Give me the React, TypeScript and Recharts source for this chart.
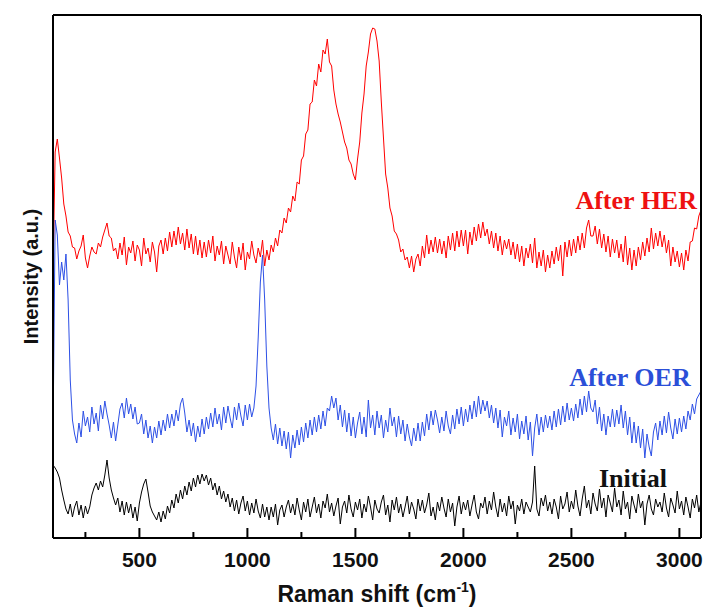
import React from 'react';
import { LineChart, Line, XAxis, YAxis, ReferenceDot, ReferenceLine, Label } from 'recharts';

// Raman shift grid (cm^-1), 100 ... 3100 in steps of 10
const ramanShift: number[] = Array.from({ length: 301 }, (_, i) => 100 + i * 10);

const afterHER: number[] = [
  263, 386, 399, 380, 360, 334, 322, 306, 302, 291,
  290, 279, 287, 292, 303, 280, 270, 282, 291, 286,
  284, 295, 291, 301, 308, 315, 302, 300, 287, 290,
  279, 295, 283, 301, 273, 291, 285, 297, 277, 293,
  288, 272, 300, 284, 290, 276, 296, 286, 266, 292,
  298, 284, 300, 287, 306, 291, 307, 293, 311, 294,
  305, 288, 309, 290, 304, 284, 302, 283, 298, 280,
  296, 281, 298, 285, 302, 277, 292, 283, 297, 274,
  292, 283, 274, 296, 281, 270, 291, 278, 295, 268,
  286, 279, 297, 283, 275, 290, 281, 298, 272, 288,
  278, 293, 286, 300, 292, 308, 305, 320, 315, 330,
  326, 342, 337, 356, 354, 378, 382, 404, 408, 434,
  436, 458, 452, 474, 466, 488, 484, 499, 476, 472,
  448, 434, 424, 416, 406, 396, 390, 378, 374, 364,
  358, 379, 396, 425, 444, 472, 486, 504, 510, 509,
  497, 477, 436, 400, 364, 350, 330, 322, 307, 304,
  298, 286, 289, 278, 281, 270, 282, 266, 279, 284,
  272, 292, 280, 303, 284, 298, 286, 301, 285, 299,
  284, 297, 280, 302, 288, 305, 287, 307, 291, 308,
  292, 308, 284, 306, 293, 311, 297, 314, 300, 316,
  302, 309, 294, 307, 290, 305, 287, 302, 283, 298,
  289, 299, 283, 296, 279, 294, 276, 292, 272, 290,
  280, 294, 275, 300, 270, 286, 272, 288, 266, 283,
  270, 287, 274, 291, 277, 293, 262, 296, 281, 298,
  282, 299, 285, 302, 288, 305, 290, 310, 318, 302,
  302, 312, 294, 309, 290, 304, 286, 302, 281, 299,
  285, 298, 280, 294, 276, 302, 273, 290, 268, 288,
  272, 291, 278, 296, 282, 300, 286, 310, 289, 305,
  292, 307, 291, 303, 285, 298, 272, 291, 276, 287,
  271, 285, 268, 288, 277, 296, 297, 310, 309, 322,
  328,
];

const afterOER: number[] = [
  101, 318, 303, 253, 276, 258, 284, 238, 158, 118,
  104, 95, 115, 101, 127, 112, 121, 106, 131, 114,
  125, 107, 133, 119, 137, 124, 113, 100, 116, 97,
  113, 129, 135, 120, 140, 124, 134, 119, 131, 114,
  115, 124, 104, 118, 100, 112, 95, 111, 100, 117,
  103, 118, 107, 124, 110, 124, 112, 128, 117, 134,
  140, 125, 106, 118, 102, 115, 96, 112, 101, 119,
  104, 121, 109, 125, 111, 130, 114, 124, 108, 131,
  115, 132, 120, 110, 131, 118, 135, 122, 112, 133,
  118, 134, 121, 130, 152, 200, 256, 283, 238, 172,
  130, 110, 98, 114, 94, 110, 92, 107, 89, 106,
  80, 103, 90, 108, 93, 111, 96, 115, 100, 118,
  103, 121, 106, 123, 109, 127, 112, 130, 127, 142,
  130, 140, 118, 133, 111, 128, 106, 125, 102, 121,
  100, 115, 126, 104, 121, 101, 138, 110, 123, 103,
  127, 110, 123, 100, 118, 106, 130, 112, 121, 101,
  122, 104, 118, 97, 114, 101, 92, 110, 97, 115,
  97, 116, 102, 124, 108, 127, 113, 128, 118, 105,
  121, 107, 127, 112, 104, 123, 109, 129, 114, 131,
  112, 129, 116, 133, 119, 137, 121, 142, 124, 138,
  127, 137, 120, 133, 115, 130, 110, 128, 101, 121,
  112, 127, 103, 120, 106, 124, 99, 117, 104, 122,
  98, 116, 82, 110, 124, 103, 121, 106, 123, 110,
  122, 108, 127, 111, 129, 113, 132, 116, 135, 118,
  130, 117, 134, 120, 139, 123, 142, 126, 147, 130,
  126, 138, 114, 131, 107, 124, 103, 122, 111, 129,
  111, 128, 114, 133, 110, 127, 103, 121, 95, 116,
  95, 112, 90, 109, 80, 104, 91, 82, 106, 115,
  98, 117, 103, 122, 105, 126, 110, 99, 119, 104,
  120, 106, 122, 109, 127, 118, 134, 124, 139, 143,
  147,
];

const initialSpec: number[] = [
  73, 70, 66, 60, 48, 38, 29, 24, 34, 21,
  31, 37, 23, 33, 20, 32, 24, 31, 43, 50,
  55, 48, 57, 51, 63, 78, 60, 48, 40, 33,
  40, 26, 37, 23, 36, 25, 34, 20, 31, 17,
  35, 46, 54, 59, 46, 32, 26, 22, 18, 26,
  16, 27, 19, 32, 25, 38, 30, 44, 35, 48,
  39, 52, 43, 56, 47, 60, 51, 63, 54, 64,
  57, 63, 53, 60, 48, 55, 43, 52, 39, 47,
  36, 44, 31, 40, 27, 38, 24, 35, 42, 27,
  37, 23, 35, 25, 39, 27, 20, 34, 21, 31,
  18, 31, 21, 34, 13, 28, 33, 21, 31, 38,
  25,
  34, 23, 40, 28, 18, 36, 26, 39, 21, 31,
  41, 25, 34, 20, 37, 30, 44, 26, 35, 22,
  32, 40, 14, 31, 37, 25, 43, 29, 21, 36,
  28, 39, 20, 34, 26, 42, 31, 18, 38, 29,
  25, 36, 43, 23, 33, 16, 38, 28, 41, 25,
  34, 21, 31, 42, 24, 36, 29, 19, 39, 27,
  38, 25, 33, 45, 22, 31, 18, 36, 27, 41,
  30, 21, 39, 26, 35, 12, 31, 42, 24, 36,
  28, 38, 22, 33, 43, 26, 19, 35, 30, 41,
  24, 37, 28, 46, 31, 21, 39, 26, 35, 22,
  42, 29, 37, 14, 33, 27, 39, 24, 36, 31,
  26, 36, 72, 29, 22, 40, 32, 43, 27, 36,
  24, 39, 31, 19, 42, 29, 34, 46, 26, 37,
  29, 48, 32, 22, 39, 52, 30, 38, 24, 45,
  34, 27, 49, 30, 40, 21, 43, 35, 26, 50,
  31, 38, 23, 47, 29, 36, 19, 42, 33, 25,
  44, 30, 37, 13, 34, 43, 29, 23, 39, 31,
  36, 26, 45, 30, 21, 40, 33, 25, 47, 29,
  37, 23, 41, 31, 20, 39, 30, 43, 26, 36,
];

const majorTicks: number[] = [500, 1000, 1500, 2000, 2500, 3000];
const minorTicks: number[] = [250, 750, 1250, 1750, 2250, 2750];

const annotations = [
  { text: 'After HER', x: 2800, y: 338, color: '#ee1111' },
  { text: 'After OER', x: 2771, y: 161, color: '#2b4fd8' },
  { text: 'Initial', x: 2785, y: 60, color: '#111111' },
];

const data = ramanShift.map((w, i) => ({
  w,
  her: afterHER[i],
  oer: afterOER[i],
  initial: initialSpec[i],
}));

const SANS = '"Liberation Sans", Arial, sans-serif';
const SERIF = '"Liberation Serif", "Times New Roman", serif';
const FRAME = { stroke: '#000', strokeWidth: 2 };

const AxisTick = (props: any) => {
  const { x, y, payload } = props;
  return (
    <text x={x} y={y + 39} textAnchor="middle" fontFamily={SANS} fontWeight="bold" fontSize={21} fill="#111">
      {payload.value}
    </text>
  );
};

const XTitle = (props: any) => {
  const vb = props.viewBox || {};
  const cx = vb.x + vb.width / 2;
  const by = vb.y + 64;
  return (
    <text x={cx} y={by} textAnchor="middle" fontFamily={SANS} fontWeight="bold" fontSize={23} fill="#111">
      <tspan>Raman shift (cm</tspan>
      <tspan fontSize={14} dy={-10}>-1</tspan>
      <tspan dy={10}>)</tspan>
    </text>
  );
};

const YTitle = (props: any) => {
  const vb = props.viewBox || {};
  const cy = vb.y + vb.height / 2;
  const bx = 38;
  return (
    <text
      x={bx}
      y={cy}
      textAnchor="middle"
      transform={`rotate(-90, ${bx}, ${cy})`}
      fontFamily={SANS}
      fontWeight="bold"
      fontSize={20}
      fill="#111"
    >
      Intensity (a.u.)
    </text>
  );
};

export default function App() {
  return (
    <div style={{ position: 'absolute', left: 0, top: 0, width: 710, height: 610, background: '#fff' }}>
      <LineChart width={710} height={610} data={data} margin={{ top: 14, right: 8, bottom: 0, left: 52 }}>
        <XAxis
          dataKey="w"
          type="number"
          domain={[100, 3100]}
          ticks={majorTicks}
          interval={0}
          allowDataOverflow
          height={72}
          tickSize={-10}
          tickMargin={0}
          axisLine={FRAME}
          tickLine={FRAME}
          tick={<AxisTick />}
        >
          <Label content={<XTitle />} />
        </XAxis>
        <XAxis
          xAxisId="top"
          orientation="top"
          dataKey="w"
          type="number"
          domain={[100, 3100]}
          allowDataOverflow
          height={1}
          tick={false}
          tickLine={false}
          axisLine={FRAME}
        />
        <YAxis
          type="number"
          domain={[0, 523]}
          allowDataOverflow
          width={1}
          tick={false}
          tickLine={false}
          axisLine={FRAME}
        >
          <Label content={<YTitle />} />
        </YAxis>
        <YAxis
          yAxisId="right"
          orientation="right"
          type="number"
          domain={[0, 523]}
          allowDataOverflow
          width={1}
          tick={false}
          tickLine={false}
          axisLine={FRAME}
        />
        {minorTicks.map((t) => (
          <ReferenceLine
            key={`m${t}`}
            ifOverflow="visible"
            segment={[{ x: t, y: 0 }, { x: t, y: 6 }]}
            stroke="#000"
            strokeWidth={2}
          />
        ))}
        <Line type="linear" dataKey="initial" stroke="#000000" strokeWidth={1} dot={false} isAnimationActive={false} />
        <Line type="linear" dataKey="oer" stroke="#2d50e6" strokeWidth={1} dot={false} isAnimationActive={false} />
        <Line type="linear" dataKey="her" stroke="#ff0000" strokeWidth={1} dot={false} isAnimationActive={false} />
        {annotations.map((a) => (
          <ReferenceDot
            key={a.text}
            x={a.x}
            y={a.y}
            r={0}
            fill="none"
            stroke="none"
            label={{
              value: a.text,
              position: 'center',
              fill: a.color,
              fontSize: 26,
              fontWeight: 'bold',
              fontFamily: SERIF,
            }}
          />
        ))}
      </LineChart>
    </div>
  );
}
